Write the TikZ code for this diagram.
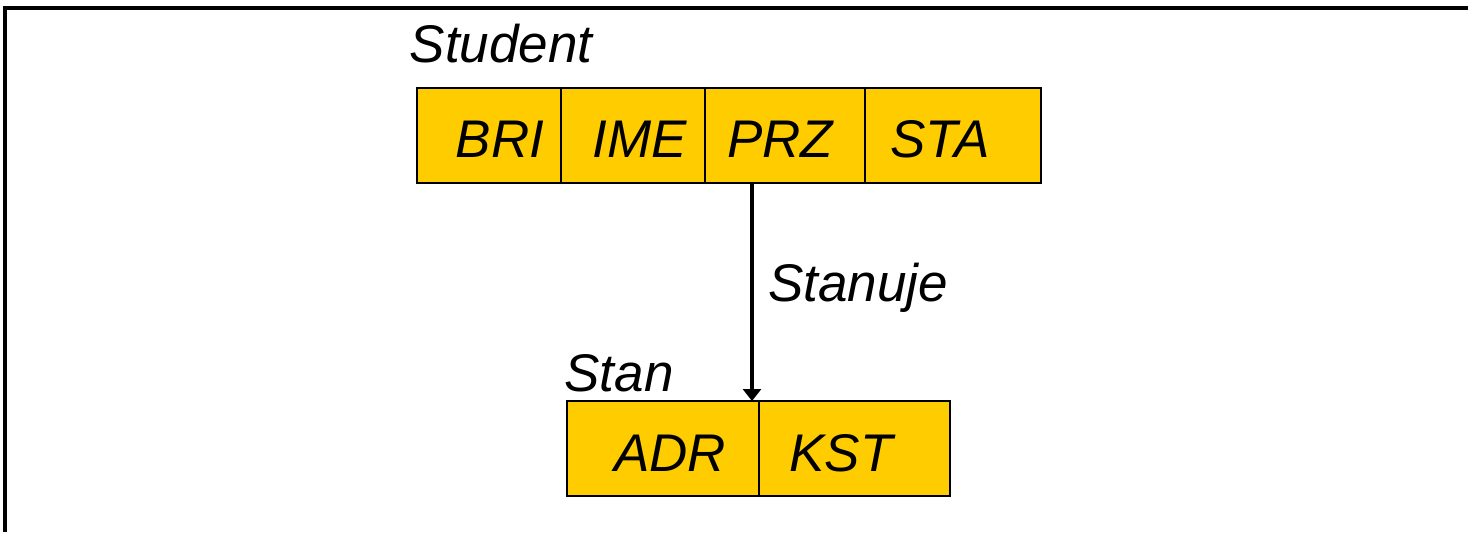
\documentclass[tikz,border=0pt]{standalone}
\usepackage{fontspec}
\setmainfont{Liberation Sans}
\usetikzlibrary{positioning,arrows.meta}

\definecolor{relgold}{HTML}{FFCC00}

\begin{document}
\begin{tikzpicture}[x=0.5pt,y=-0.5pt,
    cell/.style={draw=black,line width=1pt,fill=relgold,minimum height=47.5pt,inner sep=0pt,outer sep=0pt},
    attr/.style={anchor=base,inner sep=0pt,font=\fontsize{26.5}{31}\selectfont\itshape},
    link/.style={line width=2pt,-{Triangle[width=9pt,length=6pt]}}]
    \useasboundingbox (0,0) rectangle (1468,532);
    % Frame (left and top edges only)
    \draw[line width=2pt] (5,532) -- (5,8) -- (1468,8);
    % Relation Student
    \node[cell,minimum width=72pt,anchor=north west] (bri) at (417,88) {};
    \node[cell,minimum width=72pt,right=0pt of bri] (ime) {};
    \node[cell,minimum width=80pt,right=0pt of ime] (prz) {};
    \node[cell,minimum width=88pt,right=0pt of prz] (sta) {};
    \node[attr] (student) at (501,62) {Student};
    \node[attr] (bri text) at (500,157) {BRI};
    \node[attr] (ime text) at (640,157) {IME};
    \node[attr] (prz text) at (780,157) {PRZ};
    \node[attr] (sta text) at (940,157) {STA};
    % Relation Stan
    \node[cell,minimum width=96pt,anchor=north west] (adr) at (567,401) {};
    \node[cell,minimum width=95.5pt,right=0pt of adr] (kst) {};
    \node[attr] (stan) at (619,391) {Stan};
    \node[attr] (adr text) at (670,471) {ADR};
    \node[attr] (kst text) at (841,471) {KST};
    % Foreign key link
    \coordinate (fk from) at (752,183);
    \coordinate (fk to) at (752,401);
    \draw[link] (fk from) -- (fk to);
    \node[attr] (stanuje) at (858,301) {Stanuje};
\end{tikzpicture}
\end{document}
